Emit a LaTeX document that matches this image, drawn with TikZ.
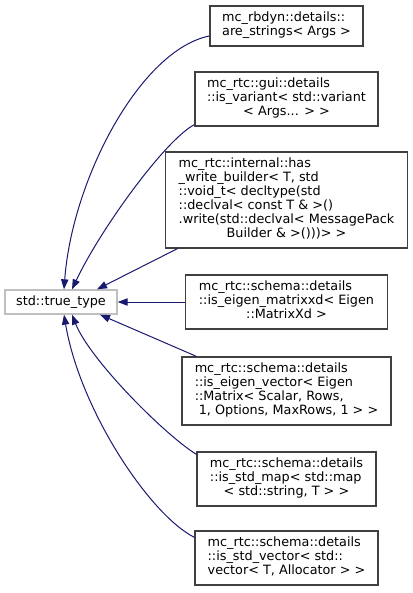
\documentclass[tikz,border=0pt]{standalone}
\usepackage{fontspec}
\setmainfont{DejaVu Sans}
\usetikzlibrary{arrows.meta,calc}
\definecolor{edgeblue}{HTML}{191970}
\definecolor{boxgray}{HTML}{404040}
\definecolor{basegray}{HTML}{BFBFBF}
\newcommand{\clsrows}[1]{\begin{tabular}{@{}l@{}}#1\end{tabular}}
\newcommand{\cntline}[1]{\multicolumn{1}{@{}c@{}}{#1}}
\begin{document}
\begin{tikzpicture}[
    x=0.75pt, y=-0.75pt,
    arr/.style={-{Triangle[length=7.5pt,width=5.5pt]}, line width=0.75pt, draw=edgeblue},
    clsbox/.style={draw=boxgray, line width=1pt, fill=white, inner sep=0pt,
        font=\fontsize{9.6}{10.5}\selectfont},
    basebox/.style={draw=basegray, line width=1pt, fill=white, inner sep=0pt,
        minimum width=84pt, minimum height=18pt, font=\fontsize{9.6}{10.5}\selectfont}
]
\useasboundingbox (0,0) rectangle (413,593);

\node[basebox] (truetype) at (61,302) {std::true\_type};

\node[clsbox, minimum width=114.75pt, minimum height=30pt] (arestr) at (286.5,26)
    {\clsrows{mc\_rbdyn::details::\\\cntline{are\_strings< Args >}}};
\node[clsbox, minimum width=137.25pt, minimum height=40.5pt] (isvariant) at (286.5,99)
    {\clsrows{mc\_rtc::gui::details\\::is\_variant< std::variant\\\cntline{< Args... > >}}};
\node[clsbox, minimum width=181.5pt, minimum height=72pt] (haswb) at (286.5,200)
    {\clsrows{mc\_rtc::internal::has\\\_write\_builder< T, std\\::void\_t< decltype(std\\::declval< const T \& >()\\.write(std::declval< MessagePack\\\cntline{Builder \& >()))> >}}};
\node[clsbox, minimum width=151.5pt, minimum height=40.5pt] (matxd) at (286.5,302)
    {\clsrows{mc\_rtc::schema::details\\::is\_eigen\_matrixxd< Eigen\\\cntline{::MatrixXd >}}};
\node[clsbox, minimum width=156.75pt, minimum height=51pt] (eigvec) at (286.5,391)
    {\clsrows{mc\_rtc::schema::details\\::is\_eigen\_vector< Eigen\\::Matrix< Scalar, Rows,\\\cntline{\ 1, Options, MaxRows, 1 > >}}};
\node[clsbox, minimum width=134.25pt, minimum height=40.5pt] (stdmap) at (286.5,479)
    {\clsrows{mc\_rtc::schema::details\\::is\_std\_map< std::map\\\cntline{< std::string, T > >}}};
\node[clsbox, minimum width=137.25pt, minimum height=40.5pt] (stdvec) at (286.5,558)
    {\clsrows{mc\_rtc::schema::details\\::is\_std\_vector< std::\\\cntline{vector< T, Allocator > >}}};

% inheritance edges
\draw[arr] ($(arestr.west)+(0,10)$) .. controls (140,50) and (72,180) .. ($(truetype.north)+(3,0)$);
\draw[arr] ($(isvariant.south west)+(0,-2)$) .. controls (165,140) and (100,230) .. ($(truetype.north)+(11,0)$);
\draw[arr] ($(haswb.south west)+(12.5,0)$) -- ($(truetype.north)+(36,0)$);
\draw[arr] (matxd) -- (truetype);
\draw[arr] ($(eigvec.north west)+(15,0)$) -- ($(truetype.south)+(39,0)$);
\draw[arr] ($(stdmap.north west)+(0,3)$) .. controls (165,435) and (90,360) .. ($(truetype.south)+(11,0)$);
\draw[arr] ($(stdvec.north west)+(0,7)$) .. controls (150,515) and (80,410) .. ($(truetype.south)+(3,0)$);

\end{tikzpicture}
\end{document}
